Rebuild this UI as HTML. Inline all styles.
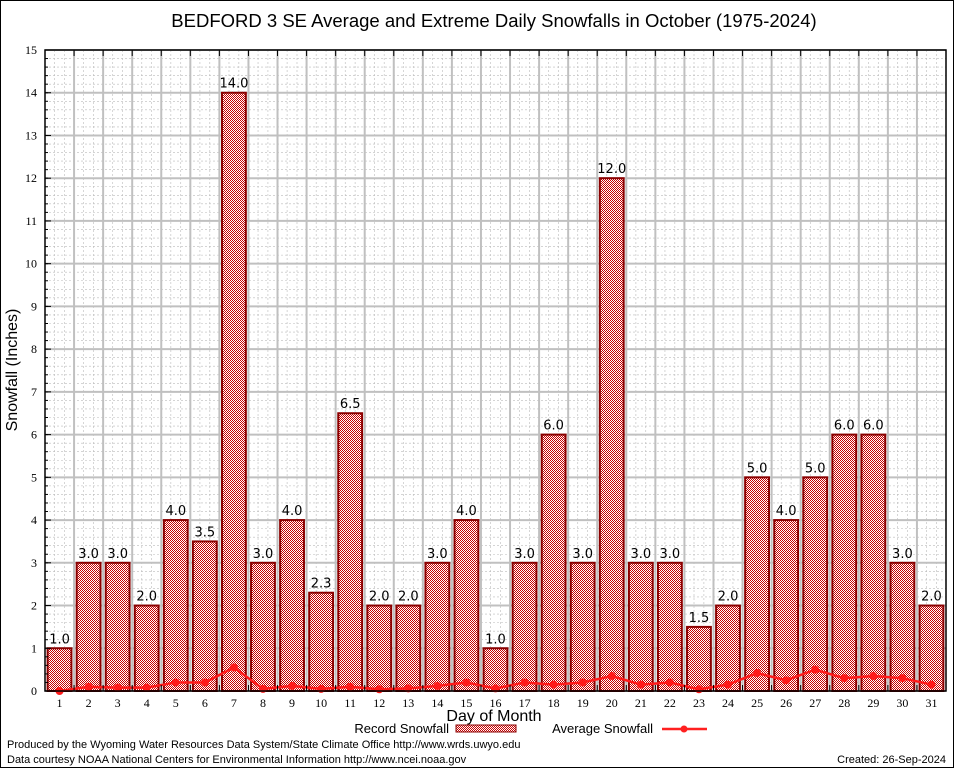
<!DOCTYPE html>
<html><head><meta charset="utf-8"><style>
html,body{margin:0;padding:0;background:#fff;}
svg{display:block;font-family:"Liberation Sans",sans-serif;}
</style></head><body>
<svg id="chart" width="954" height="768" viewBox="0 0 954 768">
<defs>
<pattern id="chk" width="2" height="2" patternUnits="userSpaceOnUse">
<rect width="2" height="2" fill="#fff"/>
<rect width="1" height="1" fill="#c80000"/>
<rect x="1" y="1" width="1" height="1" fill="#c80000"/>
</pattern>
</defs>
<rect x="0.5" y="0.5" width="953" height="767" fill="#fff" stroke="#000"/>
<text x="494" y="27" font-size="18.5" text-anchor="middle">BEDFORD 3 SE Average and Extreme Daily Snowfalls in October (1975-2024)</text>
<g id="grid"></g>
<g id="bars"></g>
<g id="avg"></g>
<g id="axes"></g>
<text transform="translate(17,370) rotate(-90)" font-size="16" text-anchor="middle">Snowfall (Inches)</text>
<text x="494" y="721" font-size="16" text-anchor="middle">Day of Month</text>
<g>
<text x="449" y="733" font-size="13" text-anchor="end">Record Snowfall</text>
<rect x="456" y="725" width="60" height="7" fill="url(#chk)" stroke="#8b0000"/>
<text x="653" y="733" font-size="13" text-anchor="end">Average Snowfall</text>
<line x1="662" y1="729" x2="707" y2="729" stroke="#ff2020" stroke-width="2.5"/>
<circle cx="684" cy="729" r="3.5" fill="#ff2020"/>
</g>
<text x="7" y="748" font-size="11">Produced by the Wyoming Water Resources Data System/State Climate Office http://www.wrds.uwyo.edu</text>
<text x="7" y="763" font-size="11">Data courtesy NOAA National Centers for Environmental Information http://www.ncei.noaa.gov</text>
<text x="946" y="763" font-size="11" text-anchor="end">Created: 26-Sep-2024</text>
</svg>
<script>
const days = [1,2,3,4,5,6,7,8,9,10,11,12,13,14,15,16,17,18,19,20,21,22,23,24,25,26,27,28,29,30,31];
const recordSnow = [1.0,3.0,3.0,2.0,4.0,3.5,14.0,3.0,4.0,2.3,6.5,2.0,2.0,3.0,4.0,1.0,3.0,6.0,3.0,12.0,3.0,3.0,1.5,2.0,5.0,4.0,5.0,6.0,6.0,3.0,2.0];
const avgSnow = [0.0,0.1,0.08,0.08,0.2,0.2,0.55,0.05,0.12,0.05,0.1,0.04,0.06,0.12,0.2,0.06,0.2,0.15,0.2,0.35,0.15,0.2,0.04,0.15,0.42,0.25,0.5,0.3,0.35,0.3,0.15];
const yTicks = [0,1,2,3,4,5,6,7,8,9,10,11,12,13,14,15];

const NS="http://www.w3.org/2000/svg";
const L=45,R=946,T=50,B=691,yMax=15;
const step=(R-L)/days.length;
const xC=d=>L+step*(d-0.5);
const yS=v=>B-(v/yMax)*(B-T);
function mk(tag,attrs,parent){const e=document.createElementNS(NS,tag);for(const k in attrs)e.setAttribute(k,attrs[k]);parent.appendChild(e);return e;}
const grid=document.getElementById('grid'),bars=document.getElementById('bars'),avg=document.getElementById('avg'),axes=document.getElementById('axes');

for(let v=0;v<yMax;v+=0.2){ if(Math.abs(v-Math.round(v))<1e-6)continue;
 const l=mk('line',{x1:L,x2:R,y1:yS(v),y2:yS(v),stroke:'#bbb','stroke-width':0.6,'stroke-dasharray':'2,2'},grid);
 
 }
for(let i=0;i<days.length;i++){ for(const f of [0.33,0.67]){
 const x=L+step*(i+f);
 const l=mk('line',{x1:x,x2:x,y1:T,y2:B,stroke:'#bbb','stroke-width':0.6,'stroke-dasharray':'2,2'},grid);
 
 }}
yTicks.forEach(v=>{
 const l=mk('line',{x1:L,x2:R,y1:yS(v),y2:yS(v),stroke:'#c0c0c0','stroke-width':2},grid);
 
 
 const t=mk('text',{x:L-8,y:yS(v)+4,'font-size':12,'text-anchor':'end','font-family':'Liberation Serif, serif'},axes);
 t.textContent=v;
 
 
 const tk=mk('line',{x1:L,x2:L+6,y1:yS(v),y2:yS(v),stroke:'#000'},axes);
 
 
});
for(let v=0.2;v<yMax;v+=0.2){const tk=mk('line',{x1:L,x2:L+3,y1:yS(v),y2:yS(v),stroke:'#000'},axes);
 
 }
for(let i=1;i<days.length;i++){const x=L+step*i;
 const l=mk('line',{x1:x,x2:x,y1:T,y2:B,stroke:'#c0c0c0','stroke-width':2},grid);
 
 
 const tk=mk('line',{x1:x,x2:x,y1:T,y2:T+6,stroke:'#000'},axes);
 
 
 const tk2=mk('line',{x1:x,x2:x,y1:B,y2:B-6,stroke:'#000'},axes);
 
 }

const bw=step*0.82;
days.forEach((d,i)=>{
 const v=recordSnow[i];
 const r=mk('rect',{x:xC(d)-bw/2,y:yS(v),width:bw,height:B-yS(v),fill:'url(#chk)',stroke:'#8b0000','stroke-width':2},bars);
 
 
 const t=mk('text',{x:xC(d),y:yS(v)-5,'font-size':13,'text-anchor':'middle','font-family':'DejaVu Sans, sans-serif'},bars);
 t.textContent=v.toFixed(1);
 
 
 const xl=mk('text',{x:xC(d),y:B+16,'font-size':12,'text-anchor':'middle','font-family':'Liberation Serif, serif'},axes);
 xl.textContent=d;
 
 
});
const pts=days.map((d,i)=>xC(d)+','+yS(avgSnow[i])).join(' ');
const pl=mk('polyline',{points:pts,fill:'none',stroke:'#ff1a1a','stroke-width':2.5},avg);


days.forEach((d,i)=>{
 const c=mk('circle',{cx:xC(d),cy:yS(avgSnow[i]),r:4,fill:'#ff1a1a'},avg);
 
 
});
const fr=mk('rect',{x:L,y:T,width:R-L,height:B-T,fill:'none',stroke:'#000','stroke-width':1.5},axes);


</script>
</body></html>
